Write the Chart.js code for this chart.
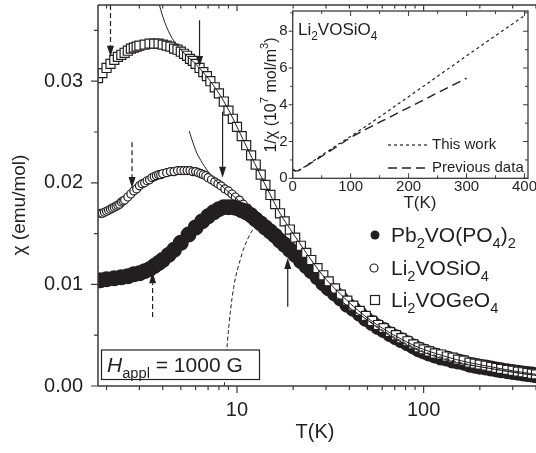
<!DOCTYPE html>
<html>
<head>
<meta charset="utf-8">
<script src="https://cdn.jsdelivr.net/npm/chart.js@4.4.1/dist/chart.umd.min.js"></script>
<style>
  html, body { margin: 0; padding: 0; background: #fff; }
  #wrap { position: relative; width: 536px; height: 453px; }
  #mainChart { position: absolute; left: 0; top: 0; }
  #insetChart { position: absolute; left: 240px; top: 0; }
</style>
</head>
<body>
<div id="wrap">
  <canvas id="mainChart" width="536" height="453"></canvas>
  <canvas id="insetChart" width="296" height="215"></canvas>
</div>
<script>
// ---- main panel data: chi (emu/mol) vs T (K) ----
const geT = [1.8, 1.9, 2.0, 2.1, 2.2, 2.3, 2.4, 2.5, 2.6, 2.7, 2.8, 2.9, 3.0, 3.2, 3.4, 3.6, 3.8, 4.0, 4.2, 4.4, 4.6, 4.8, 5.0, 5.2, 5.4, 5.6, 5.8, 6.0, 6.3, 6.6, 6.9, 7.2, 7.6, 8.0, 8.5, 9.0, 9.5, 10, 10.6, 11.2, 11.9, 12.6, 13.4, 14.2, 15.1, 16, 17, 18, 19.2, 20.5, 22, 23.5, 25, 27, 29, 31, 33.5, 36, 39, 42, 45.5, 49, 53, 57, 61, 66, 71, 76, 82, 88, 94, 100, 107, 115, 124, 133, 143, 153, 164, 176, 188, 200, 215, 230, 245, 260, 280, 300, 320, 340, 360, 380, 400];
const geChi = [0.0303, 0.0308, 0.0313, 0.0317, 0.0321, 0.0324, 0.0326, 0.0328, 0.0330, 0.0332, 0.0333, 0.0334, 0.0335, 0.0336, 0.0337, 0.0337, 0.0337, 0.0336, 0.0335, 0.0334, 0.0332, 0.0331, 0.0329, 0.0327, 0.0325, 0.0322, 0.0320, 0.0317, 0.0313, 0.0309, 0.0305, 0.0300, 0.0294, 0.0288, 0.0280, 0.0271, 0.0263, 0.0255, 0.0246, 0.0237, 0.0227, 0.0218, 0.0208, 0.0198, 0.0188, 0.0179, 0.0170, 0.0162, 0.0154, 0.0146, 0.0138, 0.0131, 0.0124, 0.0116, 0.0109, 0.0103, 0.0096, 0.0090, 0.0084, 0.0079, 0.0074, 0.0069, 0.0064, 0.0060, 0.0057, 0.0053, 0.0050, 0.0047, 0.0044, 0.0041, 0.0038, 0.0036, 0.0034, 0.0032, 0.0031, 0.0029, 0.0028, 0.0026, 0.0025, 0.0023, 0.0022, 0.0021, 0.0020, 0.00188, 0.00178, 0.00169, 0.00159, 0.00150, 0.00142, 0.00135, 0.00128, 0.00121, 0.00115];

const siT = [1.85, 1.9, 1.95, 2.0, 2.05, 2.1, 2.15, 2.2, 2.25, 2.3, 2.35, 2.4, 2.45, 2.5, 2.6, 2.7, 2.8, 2.9, 3.0, 3.1, 3.2, 3.3, 3.4, 3.5, 3.6, 3.7, 3.8, 3.9, 4.0, 4.2, 4.4, 4.6, 4.8, 5.0, 5.2, 5.4, 5.6, 5.8, 6.0, 6.2, 6.4, 6.6, 6.8, 7.0, 7.3, 7.6, 7.9, 8.2, 8.6, 9.0, 9.4, 9.8, 10.3, 10.8, 11.4, 12.0, 12.7, 13.4, 14.2, 15.0, 16, 17, 18, 19.2, 20.5, 22, 23.5, 25, 27, 29, 31, 33.5, 36, 39, 42, 45.5, 49, 53, 57, 61, 66, 71, 76, 82, 88, 94, 100, 107, 115, 124, 133, 143, 153, 164, 176, 188, 200, 215, 230, 245, 260, 280, 300, 320, 340, 360, 380, 400];
const siChi = [0.0170, 0.0170, 0.0171, 0.0172, 0.0173, 0.0174, 0.0175, 0.0176, 0.0177, 0.0178, 0.0179, 0.0181, 0.0182, 0.0183, 0.0186, 0.0189, 0.0192, 0.0194, 0.0197, 0.0199, 0.0200, 0.0202, 0.0203, 0.0205, 0.0206, 0.0207, 0.0208, 0.0208, 0.0209, 0.0210, 0.0211, 0.0211, 0.0212, 0.0212, 0.0212, 0.0212, 0.0212, 0.0211, 0.0211, 0.0210, 0.0209, 0.0208, 0.0207, 0.0205, 0.0203, 0.0201, 0.0199, 0.0197, 0.0194, 0.0192, 0.0189, 0.0186, 0.0183, 0.0179, 0.0175, 0.0171, 0.0166, 0.0161, 0.0156, 0.0152, 0.0146, 0.0141, 0.0136, 0.0131, 0.0126, 0.0120, 0.0115, 0.0110, 0.0104, 0.0099, 0.0094, 0.0088, 0.0083, 0.0078, 0.0073, 0.0069, 0.0064, 0.0060, 0.0056, 0.0053, 0.0050, 0.0046, 0.0044, 0.0041, 0.0038, 0.0035, 0.0033, 0.0031, 0.0029, 0.0028, 0.0026, 0.0025, 0.0024, 0.0022, 0.0021, 0.0020, 0.0019, 0.00180, 0.00170, 0.00161, 0.00153, 0.00144, 0.00136, 0.00129, 0.00122, 0.00116, 0.00110, 0.00104];

const pbT = [1.85, 2.0, 2.2, 2.4, 2.6, 2.8, 3.0, 3.2, 3.4, 3.6, 3.8, 4.0, 4.3, 4.6, 5.0, 5.5, 6.0, 6.5, 7.0, 7.5, 8.0, 8.5, 9.0, 9.5, 10.0, 10.6, 11.2, 11.9, 12.6, 13.4, 14.2, 15.1, 16, 17, 18, 19.2, 20.5, 22, 23.5, 25, 27, 29, 31, 33.5, 36, 39, 42, 45.5, 49, 53, 57, 61, 66, 71, 76, 82, 88, 94, 100, 107, 115, 124, 133, 143, 153, 164, 176, 188, 200, 215, 230, 245, 260, 280, 300, 320, 340, 360, 380, 400];
const pbChi = [0.0104, 0.0105, 0.0106, 0.0107, 0.0108, 0.0110, 0.0111, 0.0113, 0.0115, 0.0118, 0.0121, 0.0124, 0.0129, 0.0134, 0.0141, 0.0149, 0.0156, 0.0162, 0.0167, 0.0171, 0.0174, 0.0176, 0.0176, 0.0176, 0.0175, 0.0173, 0.0171, 0.0168, 0.0164, 0.0160, 0.0156, 0.0152, 0.0148, 0.0143, 0.0139, 0.0134, 0.0129, 0.0123, 0.0118, 0.0113, 0.0107, 0.0101, 0.0096, 0.0091, 0.0086, 0.0080, 0.0076, 0.0071, 0.0066, 0.0062, 0.0058, 0.0055, 0.0051, 0.0048, 0.0045, 0.0042, 0.0039, 0.0036, 0.0034, 0.0032, 0.0030, 0.0028, 0.0027, 0.0025, 0.0024, 0.0023, 0.0021, 0.0020, 0.0019, 0.00182, 0.00172, 0.00163, 0.00155, 0.00146, 0.00138, 0.00131, 0.00124, 0.00118, 0.00112, 0.00106];

// fit curves
const fitGeT = [3.84, 3.95, 4.1, 4.3, 4.5, 4.75, 5.0, 5.3, 5.6, 6.0, 6.5, 7.0, 8.0, 9.0, 10, 12, 14, 17, 20, 25, 30, 40, 50, 60, 80, 100, 150, 200, 300, 400];
const fitGeChi = [0.0375, 0.0367, 0.0358, 0.0349, 0.0342, 0.0336, 0.0331, 0.0326, 0.0322, 0.0317, 0.0310, 0.0303, 0.0288, 0.0272, 0.0255, 0.0225, 0.0200, 0.0170, 0.0150, 0.0124, 0.0105, 0.0082, 0.0067, 0.0057, 0.0044, 0.0036, 0.0026, 0.0021, 0.0015, 0.00115];
const fitSiT = [5.55, 5.7, 5.9, 6.1, 6.4, 6.7, 7.0, 7.4, 7.8, 8.3, 9.0, 10, 11, 12, 13.4, 15, 17, 20, 25, 30, 40, 50, 60, 80, 100, 150, 200, 300, 400];
const fitSiChi = [0.0251, 0.0244, 0.0236, 0.0229, 0.0222, 0.0216, 0.0211, 0.0206, 0.0201, 0.0197, 0.0191, 0.0184, 0.0177, 0.0171, 0.0161, 0.0152, 0.0141, 0.0128, 0.0110, 0.0097, 0.0077, 0.0065, 0.0054, 0.0041, 0.0033, 0.0023, 0.0019, 0.00136, 0.00104];
const fitPbT = [8.55, 8.7, 8.84, 9.0, 9.2, 9.4, 9.6, 9.8, 10.0, 10.4, 10.8, 11.3, 11.8, 12.4, 13.0, 13.7, 14.5, 15.5, 17, 20, 25, 30, 40, 50, 60, 80, 100, 150, 200, 300, 400];
const fitPbChi = [0.0000, 0.0020, 0.0038, 0.0055, 0.0072, 0.0086, 0.0097, 0.0106, 0.0113, 0.0124, 0.0134, 0.0143, 0.0150, 0.0156, 0.0159, 0.0160, 0.0157, 0.0151, 0.0143, 0.0129, 0.0113, 0.0098, 0.0077, 0.0065, 0.0055, 0.0042, 0.0034, 0.0024, 0.0019, 0.00138, 0.00106];

// axis ticks
const xMajorTicks = [10, 100];
const xMinorTicks = [2, 3, 4, 5, 6, 7, 8, 9, 20, 30, 40, 50, 60, 70, 80, 90, 200, 300, 400];
const yMajorTicks = [0, 0.01, 0.02, 0.03];
const yMinorTicks = [0.005, 0.015, 0.025, 0.035];

// arrows: T, chi start, chi tip, dashed
const arrows = [
  { T: 2.1, from: 0.0375, to: 0.0324, dashed: true },
  { T: 6.3, from: 0.0360, to: 0.0314, dashed: false },
  { T: 2.74, from: 0.0240, to: 0.0195, dashed: true },
  { T: 8.37, from: 0.0270, to: 0.0205, dashed: false },
  { T: 3.53, from: 0.0068, to: 0.0112, dashed: true },
  { T: 18.7, from: 0.0078, to: 0.0126, dashed: false }
];

const legendLabels = [
  [['Pb', 'n'], ['2', 'sub'], ['VO(PO', 'n'], ['4', 'sub'], [')', 'n'], ['2', 'sub']],
  [['Li', 'n'], ['2', 'sub'], ['VOSiO', 'n'], ['4', 'sub']],
  [['Li', 'n'], ['2', 'sub'], ['VOGeO', 'n'], ['4', 'sub']]
];

// ---- inset data: 1/chi (10^7 mol/m^3) vs T (K) ----
const workT = [0, 5, 10, 20, 40, 60, 80, 100, 125, 150, 200, 250, 300, 350, 400];
const workInv = [0.50, 0.40, 0.42, 0.62, 1.04, 1.46, 1.88, 2.28, 2.80, 3.34, 4.44, 5.55, 6.66, 7.76, 8.85];
const prevT = [0, 5, 10, 20, 40, 60, 80, 100, 125, 150, 200, 250, 300];
const prevInv = [0.45, 0.40, 0.42, 0.60, 1.00, 1.40, 1.80, 2.22, 2.65, 3.05, 3.85, 4.65, 5.45];
const insetXTicks = [0, 100, 200, 300, 400];
const insetXMinor = [50, 150, 250, 350];
const insetYTicks = [0, 2, 4, 6, 8];
const insetYMinor = [1, 3, 5, 7, 9];

const FONT = '"Liberation Sans", Arial, Helvetica, sans-serif';
const INK = '#231f20';
const AXIS = '#3a3a3a';

function pts(xs, ys) {
  return xs.map((v, i) => ({ x: v, y: ys[i] }));
}

// no automatic label padding, the plot box is fixed
function noPadX(s) { s.paddingLeft = 0; s.paddingRight = 0; }
function noPadY(s) { s.paddingTop = 0; s.paddingBottom = 0; }

// draws text made of normal / subscript / superscript / italic pieces
function drawRich(ctx, parts, x, y, size) {
  for (const [t, kind] of parts) {
    const small = kind === 'sub' || kind === 'sup';
    const s = small ? size * 0.7 : size;
    ctx.font = (kind === 'i' ? 'italic ' : '') + s + 'px ' + FONT;
    let dy = 0;
    if (kind === 'sub') dy = size * 0.28;
    if (kind === 'sup') dy = -size * 0.42;
    ctx.fillText(t, x, y + dy);
    x += ctx.measureText(t).width;
  }
  return x;
}

function drawArrow(ctx, x, y0, y1, dashed) {
  const dir = y1 > y0 ? 1 : -1;
  const head = 11;
  ctx.beginPath();
  ctx.setLineDash(dashed ? [5, 3] : []);
  ctx.moveTo(x, y0);
  ctx.lineTo(x, y1 - dir * head);
  ctx.stroke();
  ctx.setLineDash([]);
  ctx.beginPath();
  ctx.moveTo(x, y1);
  ctx.lineTo(x - 3.5, y1 - dir * head);
  ctx.lineTo(x + 3.5, y1 - dir * head);
  ctx.closePath();
  ctx.fill();
}

const mainDecor = {
  id: 'mainDecor',
  afterDatasetsDraw(chart) {
    const { ctx, scales: { x, y } } = chart;
    ctx.save();
    ctx.strokeStyle = INK;
    ctx.fillStyle = INK;
    ctx.lineWidth = 1.2;
    arrows.forEach(a => {
      drawArrow(ctx, x.getPixelForValue(a.T), y.getPixelForValue(a.from), y.getPixelForValue(a.to), a.dashed);
    });

    // field box
    ctx.fillStyle = '#fff';
    ctx.fillRect(101.5, 350, 158, 29.5);
    ctx.strokeStyle = INK;
    ctx.lineWidth = 1.2;
    ctx.strokeRect(101.5, 350, 158, 29.5);
    ctx.fillStyle = INK;
    ctx.textBaseline = 'alphabetic';
    ctx.textAlign = 'left';
    drawRich(ctx, [['H', 'i'], ['appl', 'sub'], [' = 1000 G', 'n']], 107, 372, 21);
    ctx.restore();
  },
  afterDraw(chart) {
    const { ctx, chartArea: a, scales: { x, y } } = chart;
    ctx.save();
    ctx.strokeStyle = AXIS;
    ctx.lineWidth = 1.5;
    ctx.beginPath();
    ctx.moveTo(a.left, a.top);
    ctx.lineTo(a.left, a.bottom);
    ctx.moveTo(a.left, a.bottom);
    ctx.lineTo(a.right, a.bottom);
    ctx.moveTo(a.left, a.top);
    ctx.lineTo(a.right, a.top);
    ctx.stroke();

    ctx.lineWidth = 1.2;
    ctx.beginPath();
    yMajorTicks.forEach(v => { const p = y.getPixelForValue(v); ctx.moveTo(a.left - 7, p); ctx.lineTo(a.left, p); });
    yMinorTicks.forEach(v => { const p = y.getPixelForValue(v); ctx.moveTo(a.left - 4, p); ctx.lineTo(a.left, p); });
    xMajorTicks.forEach(v => {
      const p = x.getPixelForValue(v);
      ctx.moveTo(p, a.bottom); ctx.lineTo(p, a.bottom + 7);
      ctx.moveTo(p, a.top); ctx.lineTo(p, a.top + 6);
    });
    xMinorTicks.forEach(v => {
      const p = x.getPixelForValue(v);
      ctx.moveTo(p, a.bottom); ctx.lineTo(p, a.bottom + 4);
      ctx.moveTo(p, a.top); ctx.lineTo(p, a.top + 3.5);
    });
    ctx.stroke();

    // axis titles
    ctx.fillStyle = INK;
    ctx.textAlign = 'center';
    ctx.textBaseline = 'middle';
    ctx.font = '20px ' + FONT;
    ctx.fillText('T(K)', 315, 432);
    ctx.save();
    ctx.translate(20, 205);
    ctx.rotate(-Math.PI / 2);
    ctx.font = '19px ' + FONT;
    ctx.fillText('χ (emu/mol)', 0, 0);
    ctx.restore();

    // legend
    const rows = [235, 268, 300];
    ctx.strokeStyle = INK;
    ctx.lineWidth = 1.2;
    ctx.beginPath(); ctx.arc(375, rows[0], 4.5, 0, Math.PI * 2); ctx.fillStyle = INK; ctx.fill();
    ctx.beginPath(); ctx.arc(374, rows[1], 4, 0, Math.PI * 2); ctx.fillStyle = '#fff'; ctx.fill(); ctx.stroke();
    ctx.fillStyle = '#fff';
    ctx.fillRect(370.5, rows[2] - 4.5, 9, 9);
    ctx.strokeRect(370.5, rows[2] - 4.5, 9, 9);
    ctx.fillStyle = INK;
    ctx.textAlign = 'left';
    ctx.textBaseline = 'alphabetic';
    legendLabels.forEach((parts, i) => drawRich(ctx, parts, 391, rows[i] + 7, 21));
    ctx.restore();
  }
};

new Chart(document.getElementById('mainChart'), {
  type: 'scatter',
  data: {
    datasets: [
      { data: pts(fitGeT, fitGeChi), showLine: true, borderColor: INK, borderWidth: 1, pointRadius: 0, tension: 0.3 },
      { data: pts(fitSiT, fitSiChi), showLine: true, borderColor: INK, borderWidth: 1, pointRadius: 0, tension: 0.3 },
      { data: pts(fitPbT, fitPbChi), showLine: true, borderColor: INK, borderWidth: 1, borderDash: [4, 2.5], pointRadius: 0, tension: 0.3 },
      { data: pts(geT, geChi), pointStyle: 'rect', pointRadius: 6.4, backgroundColor: '#fff', borderColor: INK, borderWidth: 1.2 },
      { data: pts(pbT, pbChi), showLine: true, borderWidth: 7, tension: 0.3, pointStyle: 'circle', pointRadius: 4.5, backgroundColor: INK, borderColor: INK },
      { data: pts(siT, siChi), pointStyle: 'circle', pointRadius: 4, backgroundColor: '#fff', borderColor: INK, borderWidth: 1.2 }
    ]
  },
  options: {
    responsive: false,
    animation: false,
    events: [],
    layout: { autoPadding: false, padding: { top: 5, right: 0, bottom: 0, left: 0 } },
    plugins: { legend: { display: false }, tooltip: { enabled: false } },
    scales: {
      x: {
        type: 'logarithmic',
        min: 1.8,
        max: 400,
        afterFit(s) { s.height = 67; noPadX(s); },
        afterBuildTicks(s) { s.ticks = xMajorTicks.map(v => ({ value: v })); },
        ticks: { autoSkip: false, maxRotation: 0, padding: 12, color: INK, font: { family: FONT, size: 20 }, callback: v => String(v) },
        grid: { display: false, drawTicks: false },
        border: { display: false }
      },
      y: {
        min: 0,
        max: 0.0375,
        afterFit(s) { s.width = 98; noPadY(s); },
        afterBuildTicks(s) { s.ticks = yMajorTicks.map(v => ({ value: v })); },
        ticks: { padding: 15, color: INK, font: { family: FONT, size: 20 }, callback: v => v.toFixed(2) },
        grid: { display: false, drawTicks: false },
        border: { display: false }
      }
    }
  },
  plugins: [mainDecor]
});

// ---- inset ----
const insetDecor = {
  id: 'insetDecor',
  afterDraw(chart) {
    const { ctx, chartArea: a, scales: { x, y } } = chart;
    ctx.save();
    ctx.strokeStyle = AXIS;
    ctx.lineWidth = 1.3;
    ctx.strokeRect(a.left, a.top, a.right - a.left, a.bottom - a.top);
    ctx.lineWidth = 1;
    ctx.beginPath();
    insetXTicks.forEach(v => { const p = x.getPixelForValue(v); ctx.moveTo(p, a.bottom); ctx.lineTo(p, a.bottom - 5); ctx.moveTo(p, a.top); ctx.lineTo(p, a.top + 5); });
    insetXMinor.forEach(v => { const p = x.getPixelForValue(v); ctx.moveTo(p, a.bottom); ctx.lineTo(p, a.bottom - 3); ctx.moveTo(p, a.top); ctx.lineTo(p, a.top + 3); });
    // left ticks point outwards, right ones inwards
    insetYTicks.forEach(v => { const p = y.getPixelForValue(v); ctx.moveTo(a.left, p); ctx.lineTo(a.left - 4, p); ctx.moveTo(a.right, p); ctx.lineTo(a.right - 5, p); });
    insetYMinor.forEach(v => { const p = y.getPixelForValue(v); ctx.moveTo(a.left, p); ctx.lineTo(a.left - 2.5, p); ctx.moveTo(a.right, p); ctx.lineTo(a.right - 3, p); });
    ctx.stroke();

    ctx.fillStyle = INK;
    ctx.textBaseline = 'alphabetic';
    ctx.textAlign = 'left';
    drawRich(ctx, [['Li', 'n'], ['2', 'sub'], ['VOSiO', 'n'], ['4', 'sub']], 58, 35, 17);

    // legend
    ctx.strokeStyle = INK;
    ctx.lineWidth = 1.2;
    ctx.setLineDash([3, 3]);
    ctx.beginPath(); ctx.moveTo(148, 145); ctx.lineTo(187, 145); ctx.stroke();
    ctx.lineWidth = 1.4;
    ctx.setLineDash([9, 5]);
    ctx.beginPath(); ctx.moveTo(148, 168); ctx.lineTo(188, 168); ctx.stroke();
    ctx.setLineDash([]);
    ctx.font = '15px ' + FONT;
    ctx.textBaseline = 'middle';
    ctx.fillText('This work', 192, 145);
    ctx.fillText('Previous data', 192, 168);

    // titles
    ctx.textAlign = 'center';
    ctx.font = '17px ' + FONT;
    ctx.fillText('T(K)', 180, 203);
    ctx.save();
    ctx.translate(32, 95);
    ctx.rotate(-Math.PI / 2);
    ctx.textAlign = 'left';
    ctx.textBaseline = 'middle';
    const parts = [['1/χ (10', 'n'], ['7', 'sup'], [' mol/m', 'n'], ['3', 'sup'], [')', 'n']];
    let w = 0;
    parts.forEach(([t, k]) => { ctx.font = (k === 'sup' ? 16 * 0.7 : 16) + 'px ' + FONT; w += ctx.measureText(t).width; });
    drawRich(ctx, parts, -w / 2, 0, 16);
    ctx.restore();
    ctx.restore();
  }
};

new Chart(document.getElementById('insetChart'), {
  type: 'scatter',
  data: {
    datasets: [
      { data: pts(workT, workInv), showLine: true, borderColor: INK, borderWidth: 1.2, borderDash: [3, 3], pointRadius: 0 },
      { data: pts(prevT, prevInv), showLine: true, borderColor: INK, borderWidth: 1.4, borderDash: [9, 5], pointRadius: 0 }
    ]
  },
  options: {
    responsive: false,
    animation: false,
    events: [],
    layout: { autoPadding: false, padding: { top: 11, right: 8, bottom: 0, left: 0 } },
    plugins: { legend: { display: false }, tooltip: { enabled: false } },
    scales: {
      x: {
        type: 'linear',
        min: 0,
        max: 406,
        afterFit(s) { s.height = 36.7; noPadX(s); },
        afterBuildTicks(s) { s.ticks = insetXTicks.map(v => ({ value: v })); },
        ticks: { autoSkip: false, maxRotation: 0, padding: 0, color: INK, font: { family: FONT, size: 15 } },
        grid: { display: false, drawTicks: false },
        border: { display: false }
      },
      y: {
        min: 0,
        max: 9.1,
        afterFit(s) { s.width = 52.7; noPadY(s); },
        afterBuildTicks(s) { s.ticks = insetYTicks.map(v => ({ value: v })); },
        ticks: { padding: 5, color: INK, font: { family: FONT, size: 15 } },
        grid: { display: false, drawTicks: false },
        border: { display: false }
      }
    }
  },
  plugins: [insetDecor]
});
</script>
</body>
</html>
